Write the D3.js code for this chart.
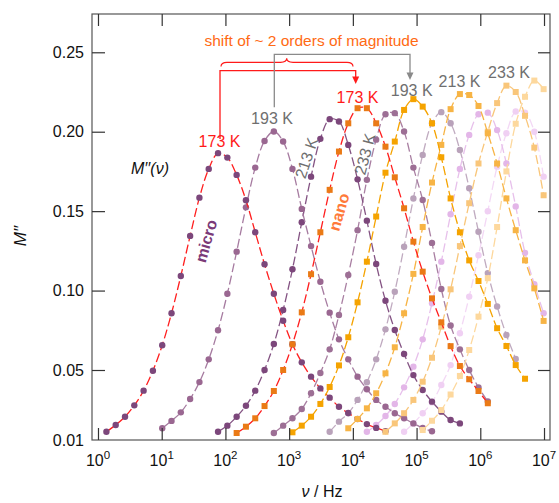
<!DOCTYPE html>
<html><head><meta charset="utf-8">
<script src="https://cdn.jsdelivr.net/npm/d3@7"></script>
<style>
body{margin:0;background:#fff}
svg{display:block}
text{font-family:"Liberation Sans",Arial,Helvetica,sans-serif}
</style>
</head><body>
<svg id="chart" width="559" height="503"></svg>
<script>
// ---------------- DATA ----------------
// measurement frequency grid (Hz), shared by all traces
const freqGrid = [1.355,1.897,2.655,3.715,5.200,7.278,10.19,14.26,19.95,27.93,39.08,54.70,76.56,107.2,150.0,209.9,293.8,411.1,575.4,805.4,
  1127,1578,2208,3090,4325,6053,8472,11858,16596,23227,32509,45499,63680,89125,124738,174582,244343,341979,478630,669885,
  937562,1312200,1836538,2570396,3597493,5035006,7046930,9862794];

// micro-crystalline sample, M''(nu) ; first value sits at freqGrid[start]
const microLabels = ["173 K","193 K","213 K","233 K","253 K","273 K","293 K"];
const microStart  = [0, 6, 12, 18, 24, 28, 32];
const micro173 = [0.0147,0.0186,0.0233,0.0298,0.0382,0.0496,0.0656,0.0857,0.1092,0.1344,0.1585,0.1766,0.1865,0.1837,0.1728,0.1569,0.1367,0.1166,0.0980,0.0810,0.0662,0.0548,0.0462,0.0395,0.0342,0.0290,0.0254,0.0220,0.0191,0.0169,0.0151];
const micro193 = [0.0167,0.0209,0.0258,0.0334,0.0431,0.0567,0.0750,0.0980,0.1245,0.1524,0.1774,0.1942,0.2001,0.1938,0.1766,0.1514,0.1280,0.1056,0.0861,0.0693,0.0567,0.0462,0.0390,0.0329,0.0290,0.0253,0.0224,0.0195,0.0169,0.0150];
const micro213 = [0.0147,0.0182,0.0233,0.0296,0.0382,0.0500,0.0664,0.0878,0.1134,0.1430,0.1717,0.1955,0.2079,0.2064,0.1917,0.1700,0.1440,0.1167,0.0936,0.0752,0.0601,0.0471,0.0386,0.0319,0.0262,0.0214,0.0195];
const micro233 = [0.0140,0.0182,0.0224,0.0277,0.0367,0.0483,0.0630,0.0846,0.1098,0.1380,0.1697,0.1950,0.2110,0.2117,0.2001,0.1774,0.1570,0.1300,0.1010,0.0780,0.0630,0.0500,0.0400,0.0320];
const micro253 = [0.0147,0.0205,0.0253,0.0329,0.0430,0.0567,0.0756,0.0993,0.1276,0.1580,0.1854,0.2053,0.2123,0.2053,0.1885,0.1644,0.1370,0.1110,0.0900,0.0720,0.0570];
const micro273 = [0.0147,0.0186,0.0237,0.0306,0.0401,0.0521,0.0693,0.0920,0.1182,0.1480,0.1766,0.1980,0.2110,0.2120,0.2010,0.1800,0.1530,0.1237,0.1040,0.0857];
const micro293 = [0.0147,0.0195,0.0253,0.0315,0.0414,0.0531,0.0731,0.0962,0.1222,0.1500,0.1780,0.1990,0.2127,0.2120,0.2000,0.1717];

// nano-crystalline sample
const nanoLabels = ["173 K","193 K","213 K","233 K","253 K"];
const nanoStart  = [14, 20, 26, 30, 34];
const nano173 = [0.0140,0.0176,0.0224,0.0294,0.0380,0.0500,0.0662,0.0863,0.1103,0.1367,0.1634,0.1875,0.2053,0.2148,0.2148,0.2053,0.1906,0.1713,0.1518,0.1308,0.1119,0.0951,0.0800,0.0650,0.0525,0.0447,0.0380,0.0310];
const nano193 = [0.0144,0.0182,0.0233,0.0306,0.0403,0.0529,0.0706,0.0926,0.1182,0.1466,0.1742,0.1938,0.2137,0.2205,0.2158,0.2053,0.1839,0.1580,0.1367,0.1190,0.1060,0.0916,0.0763,0.0651,0.0531,0.0450];
const nano213 = [0.0167,0.0220,0.0281,0.0367,0.0481,0.0643,0.0857,0.1105,0.1400,0.1680,0.1917,0.2142,0.2237,0.2231,0.2162,0.1990,0.1800,0.1580,0.1380,0.1190,0.1014,0.0809];
const nano233 = [0.0147,0.0195,0.0253,0.0329,0.0433,0.0577,0.0773,0.1008,0.1280,0.1550,0.1800,0.2000,0.2180,0.2290,0.2250,0.2100,0.1900,0.1600];
const nano253 = [0.0157,0.0210,0.0271,0.0360,0.0466,0.0626,0.0836,0.1078,0.1400,0.1750,0.2050,0.2220,0.2322,0.2268];

const xTickExp = [0,1,2,3,4,5,6,7];
const yTicks = [0.01,0.05,0.10,0.15,0.20,0.25];
const yTickLabels = ["0.01","0.05","0.10","0.15","0.20","0.25"];

// ---------------- STYLE / LAYOUT ----------------
const microData = [micro173,micro193,micro213,micro233,micro253,micro273,micro293];
const nanoData  = [nano173,nano193,nano213,nano233,nano253];
const microMarker = ["#7c477b","#9a6791","#7c477b","#9d6f95","#b9a2ba","#e3b6e8","#f0d0f3"];
const microLine   = ["#ff1e1e","#a67ba0","#845383","#a97fa2","#c0abc0","#e7c0eb","#f3d8f5"];
const nanoMarker  = ["#ea7a16","#f5a300","#f7b445","#f9c67a","#fdd89d"];
const nanoLine    = ["#ff1e1e","#f5a300","#f7b445","#f9c67a","#fdd89d"];

const W = 559, H = 503;
const L = 92, R = 550, T = 14, B = 440;
const svg = d3.select("#chart");

const x = d3.scaleLog().domain([Math.pow(10,-0.094), Math.pow(10,7.094)]).range([L, R]);
const y = d3.scaleLinear().domain([0.01, 0.05, 0.2741]).range([B, 370, T]);

svg.append("defs").append("clipPath").attr("id","pc")
  .append("rect").attr("x",L).attr("y",T).attr("width",R-L).attr("height",B-T);

const line = d3.line().x(d=>x(d[0])).y(d=>y(d[1])).curve(d3.curveCatmullRom.alpha(0.5));

function toPts(start, vals){ return vals.map((v,i)=>[freqGrid[start+i], v]); }

const gPlot = svg.append("g").attr("clip-path","url(#pc)");

function drawSeries(pts, lineColor, markColor, shape){
  gPlot.append("path").datum(pts).attr("d", line)
    .attr("fill","none").attr("stroke", lineColor).attr("stroke-width",1.3)
    .attr("stroke-dasharray","9,3.5");
  if(shape==="circle"){
    gPlot.append("g").selectAll("circle").data(pts).join("circle")
      .attr("cx",d=>x(d[0])).attr("cy",d=>y(d[1])).attr("r",3.2).attr("fill",markColor);
  } else {
    gPlot.append("g").selectAll("rect").data(pts).join("rect")
      .attr("x",d=>x(d[0])-3).attr("y",d=>y(d[1])-3).attr("width",6).attr("height",6).attr("fill",markColor);
  }
}

// draw lighter traces first, darker on top
for(let i=microData.length-1;i>=0;i--) drawSeries(toPts(microStart[i], microData[i]), microLine[i], microMarker[i], "circle");
for(let i=nanoData.length-1;i>=0;i--) drawSeries(toPts(nanoStart[i], nanoData[i]), nanoLine[i], nanoMarker[i], "square");

// ---------------- AXES / FRAME ----------------
svg.append("rect").attr("x",L).attr("y",T).attr("width",R-L).attr("height",B-T)
  .attr("fill","none").attr("stroke","#555").attr("stroke-width",1.2);

const xAxisB = d3.axisBottom(x).tickValues(xTickExp.map(e=>Math.pow(10,e))).tickSizeInner(-12).tickSizeOuter(0).tickFormat("");
const gxb = svg.append("g").attr("transform",`translate(0,${B})`).call(xAxisB);
const xAxisT = d3.axisTop(x).tickValues(xTickExp.map(e=>Math.pow(10,e))).tickSizeInner(-12).tickSizeOuter(0).tickFormat("");
const gxt = svg.append("g").attr("transform",`translate(0,${T})`).call(xAxisT);
const yAxisL = d3.axisLeft(y).tickValues(yTicks.slice(1)).tickSizeInner(-13).tickSizeOuter(0).tickFormat("");
const gyl = svg.append("g").attr("transform",`translate(${L},0)`).call(yAxisL);
const yAxisR = d3.axisRight(y).tickValues(yTicks.slice(1)).tickSizeInner(-12).tickSizeOuter(0).tickFormat("");
const gyr = svg.append("g").attr("transform",`translate(${R},0)`).call(yAxisR);
[gxb,gxt,gyl,gyr].forEach(g=>{ g.select(".domain").remove(); g.selectAll("line").attr("stroke","#333").attr("stroke-width",1.2); });

// x tick labels 10^n
const xl = svg.append("g");
xTickExp.forEach(e=>{
  const t = xl.append("text").attr("x", x(Math.pow(10,e))).attr("y", 466).attr("text-anchor","middle")
    .attr("font-size",16).attr("fill","#111");
  t.append("tspan").text("10");
  t.append("tspan").attr("dy",-7).attr("font-size",11.5).text(e);
});
// y tick labels
yTicks.forEach((v,i)=>{
  svg.append("text").attr("x",84).attr("y",y(v)).attr("dy","0.36em").attr("text-anchor","end")
    .attr("font-size",16).attr("fill","#111").text(yTickLabels[i]);
});

// axis titles
svg.append("text").attr("transform","translate(26,236) rotate(-90)").attr("text-anchor","middle")
  .attr("font-size",17).attr("font-style","italic").attr("fill","#111").text("M\u2032\u2032");
const xt = svg.append("text").attr("x",322).attr("y",497).attr("text-anchor","middle").attr("font-size",16).attr("fill","#111");
xt.append("tspan").attr("font-style","italic").text("\u03bd");
xt.append("tspan").text(" / Hz");

// ---------------- ANNOTATIONS ----------------
const red = "#ff1a1a", grey = "#8a8a8a";
function lab(t, px, py, color, rot, opts={}){
  const el = svg.append("text").attr("transform",`translate(${px},${py}) rotate(${rot||0})`)
    .attr("text-anchor","middle").attr("font-size",opts.size||16).attr("fill",color).text(t);
  if(opts.bold) el.attr("font-weight","bold");
  if(opts.italic) el.attr("font-style","italic");
  if(opts.dy) el.attr("dy",opts.dy);
  return el;
}
lab(microLabels[0], 219.5, 146.5, red);
lab(microLabels[1], 272, 124, "#6f6f6f");
lab(microLabels[2], 306.5, 158, "#6f6f6f", -72, {dy:"0.35em"});
lab(microLabels[3], 365, 154, "#6f6f6f", -75, {dy:"0.35em"});
lab(nanoLabels[0], 357.5, 102.5, red);
lab(nanoLabels[1], 411.7, 96, "#6f6f6f");
lab(nanoLabels[2], 459.5, 86.5, "#6f6f6f");
lab(nanoLabels[3], 509, 78, "#6f6f6f");
lab("micro", 206, 241, "#7b3a78", -74, {bold:true, dy:"0.35em"});
lab("nano", 339, 212, "#ff7a3a", -74, {bold:true, dy:"0.35em"});
lab("shift of ~ 2 orders of magnitude", 311.5, 46, "#ff6a13", 0, {size:15.5});

const mt = svg.append("text").attr("x",150).attr("y",173.5).attr("text-anchor","middle").attr("font-size",16).attr("font-style","italic").attr("fill","#111");
mt.append("tspan").text("M\u2032\u2032(\u03bd)");

// red bracket with arrow
svg.append("path").attr("d","M220,139 V70.7 H355.7 V77").attr("fill","none").attr("stroke",red).attr("stroke-width",1.3);
svg.append("path").attr("d","M352.2,76.5 L359.2,76.5 L355.7,84 Z").attr("fill",red);
// curly brace
svg.append("path").attr("d","M221,66.5 Q221,62.3 227,62.3 L280.5,62.3 Q286.7,62.3 286.7,58.3 Q286.7,62.3 293,62.3 L347,62.3 Q353,62.3 353,66.5")
  .attr("fill","none").attr("stroke",red).attr("stroke-width",1.2);
// grey connector with arrow
svg.append("path").attr("d","M274.3,107.3 V54.3 H410 V73").attr("fill","none").attr("stroke",grey).attr("stroke-width",1.3);
svg.append("path").attr("d","M406.5,72.5 L413.5,72.5 L410,80 Z").attr("fill",grey);
</script>
</body></html>
